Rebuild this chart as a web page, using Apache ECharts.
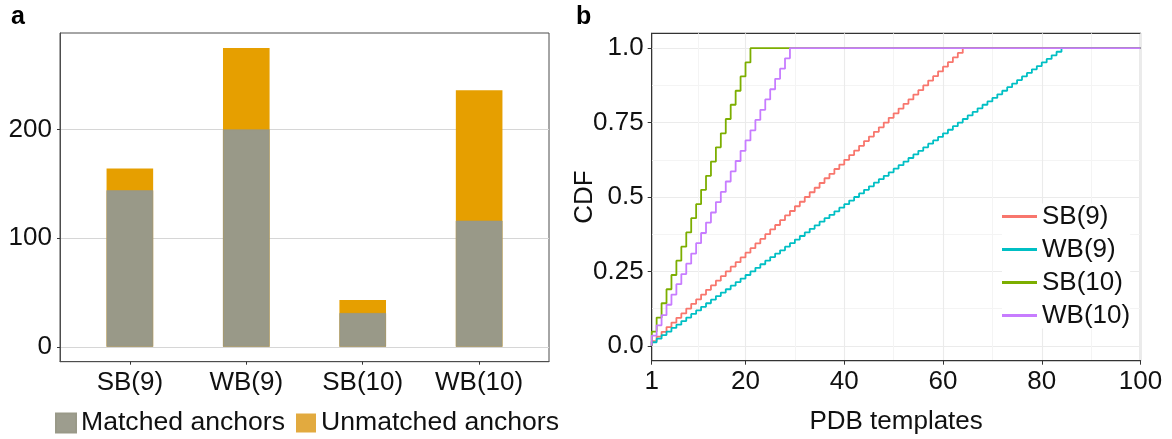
<!DOCTYPE html>
<html>
<head>
<meta charset="utf-8">
<script src="https://cdn.jsdelivr.net/npm/echarts@6/dist/echarts.min.js"></script>
<style>
  html, body { margin: 0; padding: 0; background: #fff; }
  #chart { width: 1172px; height: 439px; }
</style>
</head>
<body>
<div id="chart"></div>
<script>
// panel a: anchors per group
const groups = ['SB(9)', 'WB(9)', 'SB(10)', 'WB(10)']
const matched = [144, 200, 31, 116]
const unmatched = [20, 75, 12, 120]
const barPos = [1, 2, 3, 4]
const barYTicks = [0, 100, 200]

// panel b: CDF over PDB templates (value at templates = 1, 2, 3, ...)
const cdfNames = ['SB(9)', 'WB(9)', 'SB(10)', 'WB(10)']
const cdfColors = ['#F8766D', '#00BFC4', '#7CAE00', '#C77CFF']
const sb9Cdf = [0.016, 0.031, 0.047, 0.063, 0.078, 0.094, 0.109, 0.125, 0.141, 0.156,
  0.172, 0.188, 0.203, 0.219, 0.234, 0.25, 0.266, 0.281, 0.297, 0.313,
  0.328, 0.344, 0.359, 0.375, 0.391, 0.406, 0.422, 0.438, 0.453, 0.469,
  0.484, 0.5, 0.516, 0.531, 0.547, 0.563, 0.578, 0.594, 0.609, 0.625,
  0.641, 0.656, 0.672, 0.688, 0.703, 0.719, 0.734, 0.75, 0.766, 0.781,
  0.797, 0.813, 0.828, 0.844, 0.859, 0.875, 0.891, 0.906, 0.922, 0.938,
  0.953, 0.969, 0.984, 1]
const wb9Cdf = [0.012, 0.024, 0.036, 0.048, 0.06, 0.071, 0.083, 0.095, 0.107, 0.119,
  0.131, 0.143, 0.155, 0.167, 0.179, 0.19, 0.202, 0.214, 0.226, 0.238,
  0.25, 0.262, 0.274, 0.286, 0.298, 0.31, 0.321, 0.333, 0.345, 0.357,
  0.369, 0.381, 0.393, 0.405, 0.417, 0.429, 0.44, 0.452, 0.464, 0.476,
  0.488, 0.5, 0.512, 0.524, 0.536, 0.548, 0.56, 0.571, 0.583, 0.595,
  0.607, 0.619, 0.631, 0.643, 0.655, 0.667, 0.679, 0.69, 0.702, 0.714,
  0.726, 0.738, 0.75, 0.762, 0.774, 0.786, 0.798, 0.81, 0.821, 0.833,
  0.845, 0.857, 0.869, 0.881, 0.893, 0.905, 0.917, 0.929, 0.94, 0.952,
  0.964, 0.976, 0.988, 1]
const sb10Cdf = [0.048, 0.095, 0.143, 0.19, 0.238, 0.286, 0.333, 0.381, 0.429, 0.476,
  0.524, 0.571, 0.619, 0.667, 0.714, 0.762, 0.81, 0.857, 0.905, 0.952, 1]
const wb10Cdf = [0.034, 0.069, 0.103, 0.138, 0.172, 0.207, 0.241, 0.276, 0.31, 0.345,
  0.379, 0.414, 0.448, 0.483, 0.517, 0.552, 0.586, 0.621, 0.655, 0.69,
  0.724, 0.759, 0.793, 0.828, 0.862, 0.897, 0.931, 0.966, 1]
const cdfValues = [sb9Cdf, wb9Cdf, sb10Cdf, wb10Cdf]

const xTicks = [1, 20, 40, 60, 80, 100]
const xMinor = [10.5, 30, 50, 70, 90]
const yTicks = [0, 0.25, 0.5, 0.75, 1]
const yTickLabels = ['0.0', '0.25', '0.5', '0.75', '1.0']
const yMinor = [0.125, 0.375, 0.625, 0.875]

const font = 'Liberation Sans, Arial, Helvetica, sans-serif'
const txt = '#111'
const fs = 26

const chart = echarts.init(document.getElementById('chart'))

const cdfSeries = cdfValues.map((vals, k) => ({
  name: cdfNames[k],
  type: 'line',
  xAxisIndex: 1,
  yAxisIndex: 1,
  step: 'end',
  symbol: 'none',
  showSymbol: false,
  lineStyle: { width: 1.8, color: cdfColors[k] },
  itemStyle: { color: cdfColors[k] },
  data: [[1, 0], ...vals.map((v, i) => [i + 1, v]), [100, 1]]
}))

// stacking doesn't kick in on a value x axis, so the orange bar is drawn
// at the group total and the grey one laid over it (barGap -100%)
const totals = matched.map((v, i) => v + unmatched[i])

const option = {
  animation: false,
  textStyle: { fontFamily: font },
  grid: [
    { left: 60, top: 33, width: 489, height: 328.7, show: true, borderColor: '#4d4d4d', borderWidth: 1, outerBoundsMode: 'none' },
    { left: 651.7, top: 33.3, width: 488.8, height: 327.4, show: true, borderColor: '#333', borderWidth: 1.2, outerBoundsMode: 'none' }
  ],
  xAxis: [
    {
      type: 'value', gridIndex: 0, min: 0.4, max: 4.6,
      axisLine: { show: true, onZero: false, lineStyle: { color: '#4d4d4d' } },
      axisTick: { show: true, length: 3, customValues: barPos, lineStyle: { color: '#333' } },
      axisLabel: { customValues: barPos, formatter: v => groups[v - 1], fontSize: fs, color: txt, margin: 8, fontFamily: font },
      splitLine: { show: false }
    },
    {
      type: 'value', gridIndex: 1, min: 1, max: 100,
      name: 'PDB templates', nameLocation: 'middle', nameGap: 48, nameMoveOverlap: false,
      nameTextStyle: { fontSize: fs, color: txt, fontFamily: font },
      axisLine: { show: true, onZero: false, lineStyle: { color: '#333' } },
      axisTick: { show: true, length: 4, customValues: xTicks, lineStyle: { color: '#333' } },
      axisLabel: { customValues: xTicks, fontSize: fs, color: txt, margin: 8, fontFamily: font },
      splitLine: { show: true, lineStyle: { color: '#ebebeb', width: 1.1 } }
    },
    {
      type: 'value', gridIndex: 1, min: 1, max: 100, position: 'top',
      axisLine: { show: false, onZero: false },
      axisTick: { show: false, customValues: xMinor },
      axisLabel: { show: false, customValues: xMinor },
      splitLine: { show: true, lineStyle: { color: '#f4f4f4', width: 1 } }
    }
  ],
  yAxis: [
    {
      type: 'value', gridIndex: 0, min: -13.75, max: 288.75,
      axisLine: { show: true, onZero: false, lineStyle: { color: '#4d4d4d' } },
      axisTick: { show: true, length: 3, customValues: barYTicks, lineStyle: { color: '#333' } },
      axisLabel: { customValues: barYTicks, fontSize: fs, color: txt, margin: 8, fontFamily: font },
      splitLine: { show: true, lineStyle: { color: '#d6d6d6', width: 1 } }
    },
    {
      type: 'value', gridIndex: 1, min: -0.05, max: 1.05,
      name: 'CDF', nameLocation: 'middle', nameGap: 54, nameMoveOverlap: false,
      nameTextStyle: { fontSize: fs, color: txt, fontFamily: font },
      axisLine: { show: true, onZero: false, lineStyle: { color: '#333' } },
      axisTick: { show: true, length: 4, customValues: yTicks, lineStyle: { color: '#333' } },
      axisLabel: {
        customValues: yTicks, fontSize: fs, color: txt, margin: 8, fontFamily: font,
        formatter: v => yTickLabels[yTicks.indexOf(v)]
      },
      splitLine: { show: true, lineStyle: { color: '#ebebeb', width: 1.1 } }
    },
    {
      type: 'value', gridIndex: 1, min: -0.05, max: 1.05, position: 'right',
      axisLine: { show: false, onZero: false },
      axisTick: { show: false, customValues: yMinor },
      axisLabel: { show: false, customValues: yMinor },
      splitLine: { show: true, lineStyle: { color: '#f4f4f4', width: 1 } }
    }
  ],
  legend: [
    {
      data: [
        { name: 'Matched anchors', itemStyle: { color: '#9d9d8e' } },
        { name: 'Unmatched anchors', itemStyle: { color: '#e2aa3f' } }
      ],
      icon: 'rect', left: 55, top: 409.5, padding: 0,
      itemWidth: 20, itemHeight: 19, itemGap: 11,
      textStyle: { fontSize: 26.6, color: txt, fontFamily: font }
    },
    {
      data: cdfNames,
      icon: 'rect',
      orient: 'vertical', left: 1002, top: 203.5, padding: 0,
      itemWidth: 35, itemHeight: 2.8, itemGap: 7,
      backgroundColor: '#fff',
      textStyle: { fontSize: fs, color: txt, fontFamily: font, lineHeight: 26 }
    }
  ],
  graphic: [
    { type: 'text', left: 11, top: 5, style: { text: 'a', font: 'bold 25px ' + font, fill: '#000' } },
    { type: 'text', left: 576, top: 5, style: { text: 'b', font: 'bold 25px ' + font, fill: '#000' } }
  ],
  series: [
    {
      name: 'Unmatched anchors', type: 'bar',
      xAxisIndex: 0, yAxisIndex: 0, barWidth: 46.6, z: 2,
      itemStyle: { color: '#E69F00' },
      data: totals.map((v, i) => [barPos[i], v])
    },
    {
      name: 'Matched anchors', type: 'bar',
      xAxisIndex: 0, yAxisIndex: 0, barWidth: 46.6, barGap: '-100%', z: 3,
      itemStyle: { color: '#999988', borderColor: '#999988', borderWidth: 0.6 },
      data: matched.map((v, i) => [barPos[i], v])
    },
    ...cdfSeries
  ]
}

chart.setOption(option)
</script>
</body>
</html>
